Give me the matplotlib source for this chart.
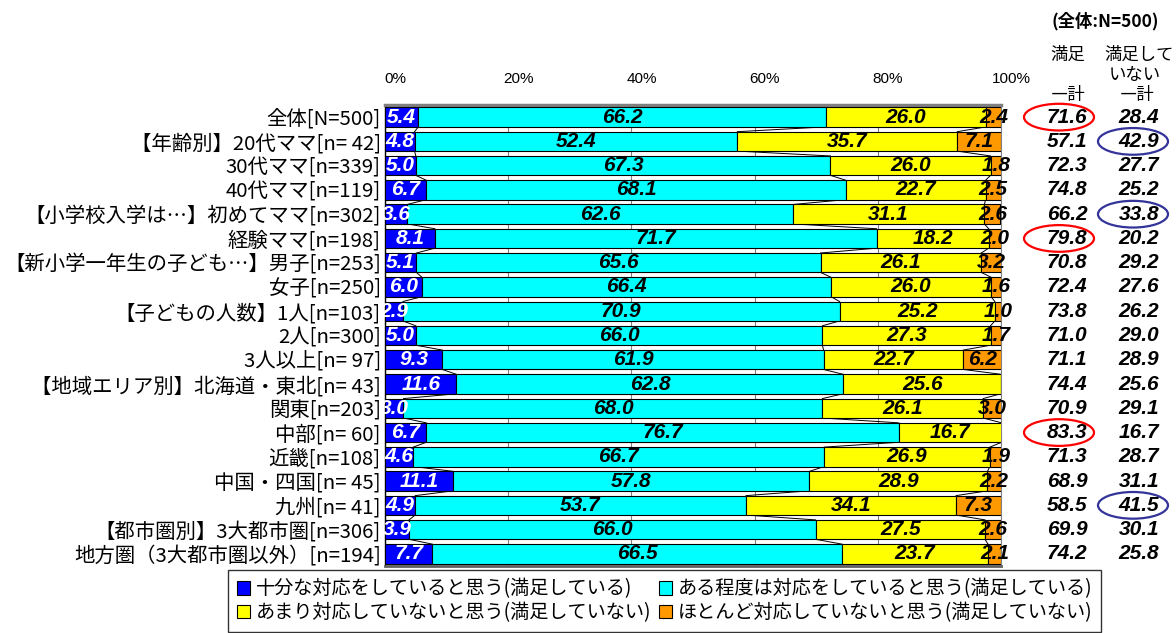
import matplotlib
matplotlib.use("Agg")
import matplotlib.pyplot as plt
import matplotlib.transforms as mtransforms
from matplotlib.patches import Ellipse, Patch
import numpy as np

plt.rcParams['font.family'] = ['Noto Sans CJK JP', 'DejaVu Sans']

# ---- data -------------------------------------------------------------
categories = [
    '全体[N=500]',
    '【年齢別】20代ママ[n= 42]',
    '30代ママ[n=339]',
    '40代ママ[n=119]',
    '【小学校入学は…】初めてママ[n=302]',
    '経験ママ[n=198]',
    '【新小学一年生の子ども…】男子[n=253]',
    '女子[n=250]',
    '【子どもの人数】1人[n=103]',
    '2人[n=300]',
    '3人以上[n= 97]',
    '【地域エリア別】北海道・東北[n= 43]',
    '関東[n=203]',
    '中部[n= 60]',
    '近畿[n=108]',
    '中国・四国[n= 45]',
    '九州[n= 41]',
    '【都市圏別】3大都市圏[n=306]',
    '地方圏（3大都市圏以外）[n=194]',
]

fully_responding = [5.4, 4.8, 5.0, 6.7, 3.6, 8.1, 5.1, 6.0, 2.9, 5.0, 9.3, 11.6, 3.0, 6.7, 4.6, 11.1, 4.9, 3.9, 7.7]
somewhat_responding = [66.2, 52.4, 67.3, 68.1, 62.6, 71.7, 65.6, 66.4, 70.9, 66.0, 61.9, 62.8, 68.0, 76.7, 66.7, 57.8, 53.7, 66.0, 66.5]
not_much_responding = [26.0, 35.7, 26.0, 22.7, 31.1, 18.2, 26.1, 26.0, 25.2, 27.3, 22.7, 25.6, 26.1, 16.7, 26.9, 28.9, 34.1, 27.5, 23.7]
hardly_responding = [2.4, 7.1, 1.8, 2.5, 2.6, 2.0, 3.2, 1.6, 1.0, 1.7, 6.2, 0.0, 3.0, 0.0, 1.9, 2.2, 7.3, 2.6, 2.1]

satisfied_total = [71.6, 57.1, 72.3, 74.8, 66.2, 79.8, 70.8, 72.4, 73.8, 71.0, 71.1, 74.4, 70.9, 83.3, 71.3, 68.9, 58.5, 69.9, 74.2]
unsatisfied_total = [28.4, 42.9, 27.7, 25.2, 33.8, 20.2, 29.2, 27.6, 26.2, 29.0, 28.9, 25.6, 29.1, 16.7, 28.7, 31.1, 41.5, 30.1, 25.8]

series_names = [
    '十分な対応をしていると思う(満足している)',
    'ある程度は対応をしていると思う(満足している)',
    'あまり対応していないと思う(満足していない)',
    'ほとんど対応していないと思う(満足していない)',
]
series_colors = ['#0000FF', '#00FFFF', '#FFFF00', '#FF9900']
label_colors = ['white', 'black', 'black', 'black']

x_ticks = [0, 20, 40, 60, 80, 100]
x_tick_labels = ['0%', '20%', '40%', '60%', '80%', '100%']

high_satisfied_rows = [0, 5, 13]     # circled in red
high_unsatisfied_rows = [1, 4, 16]   # circled in blue

# ---- figure -----------------------------------------------------------
W, H = 1176, 633
fig = plt.figure(figsize=(W / 100, H / 100), dpi=100)
ax = fig.add_axes([385 / W, 1 - 566 / H, 616 / W, 461 / H])

num_font = 'Liberation Sans'
num_size = 15
n = len(categories)
rows = np.arange(n)
values = np.array([fully_responding, somewhat_responding,
                   not_much_responding, hardly_responding])
bar_h = 0.8

left = np.zeros(n)
for k in range(values.shape[0]):
    seg = values[k]
    ax.barh(rows, seg, left=left, height=bar_h, color=series_colors[k],
            edgecolor='black', linewidth=0.8, zorder=3)
    for i in range(n):
        if seg[i] > 0:
            ax.text(left[i] + seg[i] / 2, rows[i], f'{seg[i]:.1f}',
                    ha='center', va='center', color=label_colors[k],
                    fontsize=num_size, fontweight='bold', fontstyle='italic',
                    family=num_font, zorder=6, clip_on=False)
    left = left + seg
    # series lines joining segment boundaries of neighbouring bars
    if k < values.shape[0] - 1:
        for i in range(n - 1):
            ax.plot([left[i], left[i + 1]],
                    [rows[i] + bar_h / 2, rows[i + 1] - bar_h / 2],
                    color='black', lw=0.7, zorder=2)

ax.set_xlim(0, 100)
ax.set_ylim(n - 0.5, -0.5)

ax.set_xticks(x_ticks)
ax.set_xticklabels(x_tick_labels, family=num_font, fontsize=11)
ax.xaxis.tick_top()
ax.tick_params(axis='x', length=0, pad=14)
shift = mtransforms.ScaledTranslation(10 / 100, 0, fig.dpi_scale_trans)
for lbl in ax.get_xticklabels():
    lbl.set_transform(lbl.get_transform() + shift)

ax.set_yticks(rows)
ax.set_yticklabels(categories, fontsize=14.7)
ax.tick_params(axis='y', length=0, pad=3)

ax.grid(axis='x', color='#808080', lw=0.8, zorder=0)
ax.set_axisbelow(True)
ax.spines['top'].set_color('#808080')
ax.spines['top'].set_linewidth(2.5)
ax.spines['bottom'].set_color('#606060')
ax.spines['bottom'].set_linewidth(2)
ax.spines['left'].set_color('black')
ax.spines['left'].set_linewidth(1)
ax.spines['right'].set_color('#808080')
ax.spines['right'].set_linewidth(0.8)

# ---- totals columns on the right --------------------------------------
trans = mtransforms.blended_transform_factory(ax.transAxes, ax.transData)
col1_x = (1067 - 385) / 616
col2_x = (1139 - 385) / 616
for i in range(n):
    ax.text(col1_x, rows[i], f'{satisfied_total[i]:.1f}', transform=trans,
            ha='center', va='center', fontsize=num_size, fontweight='bold',
            fontstyle='italic', family=num_font, clip_on=False)
    ax.text(col2_x, rows[i], f'{unsatisfied_total[i]:.1f}', transform=trans,
            ha='center', va='center', fontsize=num_size, fontweight='bold',
            fontstyle='italic', family=num_font, clip_on=False)

ell_w = 70 / 616
ell_h = 1.1
for i in high_satisfied_rows:
    e = Ellipse(((1059 - 385) / 616, rows[i]), ell_w, ell_h, transform=trans,
                fill=False, edgecolor='#FF0000', lw=1.6, clip_on=False)
    ax.add_patch(e)
for i in high_unsatisfied_rows:
    e = Ellipse(((1133 - 385) / 616, rows[i]), ell_w, ell_h, transform=trans,
                fill=False, edgecolor='#333399', lw=1.6, clip_on=False)
    ax.add_patch(e)


def fig_text(px, py, s, **kw):
    fig.text(px / W, 1 - py / H, s, ha='center', va='center', **kw)


fig_text(1105, 21, '(全体:N=500)', fontsize=12.5, fontweight='bold')
fig_text(1068, 55, '満足', fontsize=12.5)
fig_text(1068, 95, '―計', fontsize=12.5)
fig_text(1139, 55, '満足して', fontsize=12.5)
fig_text(1135, 75, 'いない', fontsize=12.5)
fig_text(1137, 95, '―計', fontsize=12.5)

# ---- legend -----------------------------------------------------------
handles = [Patch(facecolor=c, edgecolor='black', lw=0.8) for c in series_colors]
order = [0, 2, 1, 3]
leg = fig.legend([handles[j] for j in order], [series_names[j] for j in order],
                 ncol=2, loc='upper left', bbox_to_anchor=(228 / W, 1 - 570 / H),
                 frameon=True, fancybox=False, edgecolor='black', fontsize=13.8,
                 handlelength=0.7, handleheight=0.7, handletextpad=0.3,
                 columnspacing=0.4, borderpad=0.45, labelspacing=0.12,
                 borderaxespad=0)
leg.get_frame().set_linewidth(1.0)

fig.savefig('out.png', dpi=100)
